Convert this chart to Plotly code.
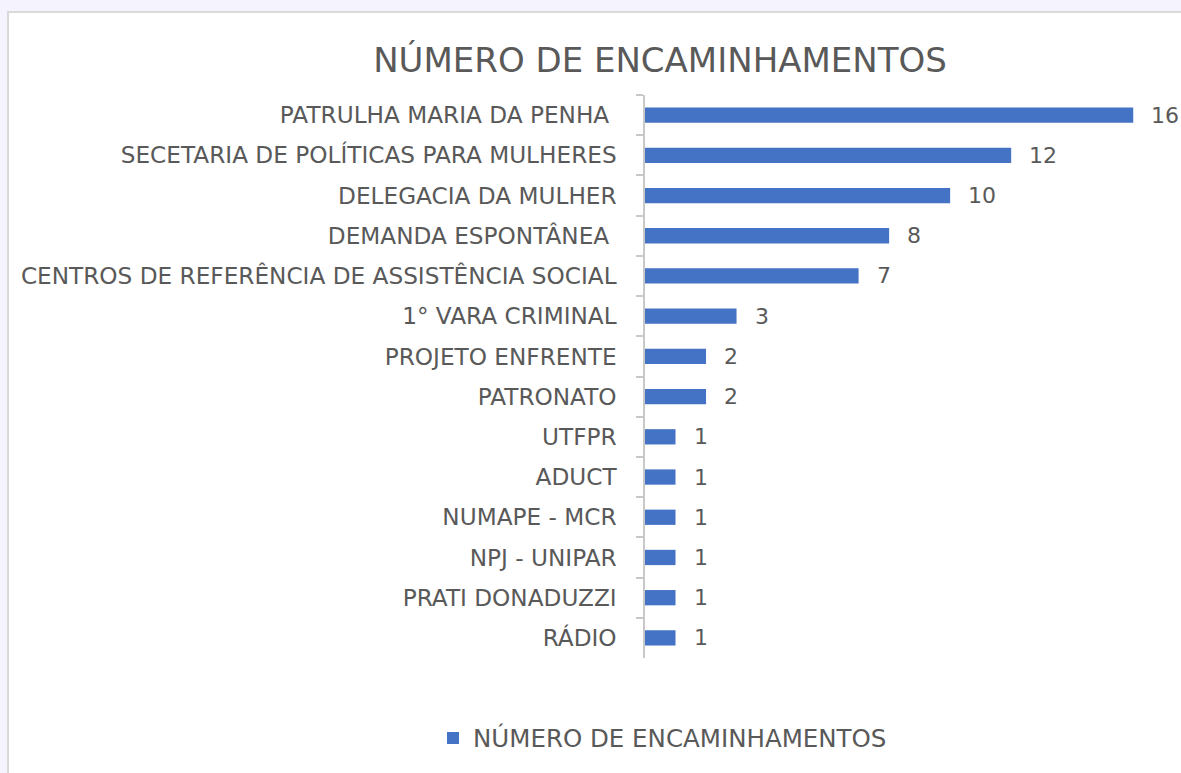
import plotly.graph_objects as go

categories = [
    "PATRULHA MARIA DA PENHA ",
    "SECETARIA DE POLÍTICAS PARA MULHERES",
    "DELEGACIA DA MULHER",
    "DEMANDA ESPONTÂNEA ",
    "CENTROS DE REFERÊNCIA DE ASSISTÊNCIA SOCIAL",
    "1° VARA CRIMINAL",
    "PROJETO ENFRENTE",
    "PATRONATO",
    "UTFPR",
    "ADUCT",
    "NUMAPE - MCR",
    "NPJ - UNIPAR",
    "PRATI DONADUZZI",
    "RÁDIO",
]
values = [16, 12, 10, 8, 7, 3, 2, 2, 1, 1, 1, 1, 1, 1]
series_name = "NÚMERO DE ENCAMINHAMENTOS"
title_text = "NÚMERO DE ENCAMINHAMENTOS"

W, H = 1181, 773
L, R, T, B = 645, 2, 95, 115
pw, ph = W - L - R, H - T - B

FONT = "DejaVu Sans"
GRAY = "#595959"
BLUE = "#4472C4"

def px_x(px):
    return (px - L) / pw

def px_y(py):
    return (H - B - py) / ph

fig = go.Figure()
fig.add_trace(go.Bar(
    x=values, y=categories, orientation="h",
    marker=dict(color=BLUE, line=dict(width=0)),
    name=series_name, showlegend=True,
    width=0.38,
))

for v, c in zip(values, categories):
    fig.add_annotation(x=v, y=c, text=str(v), showarrow=False,
                       xanchor="left", yanchor="middle", xshift=16,
                       font=dict(family=FONT, size=22, color=GRAY))

fig.add_shape(type="rect", xref="paper", yref="paper",
              x0=px_x(8), x1=px_x(1200), y0=px_y(12), y1=px_y(800),
              fillcolor="white", line=dict(color="#d9d9d9", width=2),
              layer="below")

fig.update_layout(
    width=W, height=H,
    margin=dict(l=L, r=R, t=T, b=B, autoexpand=False),
    paper_bgcolor="#f5f3fd",
    plot_bgcolor="rgba(0,0,0,0)",
    font=dict(family=FONT, color=GRAY, size=23),
    title=dict(text=title_text, x=660 / W, y=1 - 60 / H, xanchor="center",
               yanchor="middle", xref="container", yref="container",
               font=dict(family=FONT, size=34, color=GRAY)),
    xaxis=dict(range=[0, 17.5], visible=False, fixedrange=True),
    yaxis=dict(autorange="reversed", type="category",
               showline=True, linecolor="#c8c8c8", linewidth=1.5,
               ticks="outside", tickson="boundaries", ticklen=7,
               tickcolor="#c8c8c8", tickwidth=2,
               ticklabelstandoff=22,
               tickfont=dict(family=FONT, size=23.2, color=GRAY),
               showgrid=False, zeroline=False),
    legend=dict(orientation="h", xref="container", yref="container",
                x=433 / W, y=1 - 738 / H, xanchor="left", yanchor="middle",
                font=dict(family=FONT, size=24.5, color=GRAY),
                bgcolor="rgba(0,0,0,0)"),
    bargap=0.62,
)

fig.write_html("out.html")
